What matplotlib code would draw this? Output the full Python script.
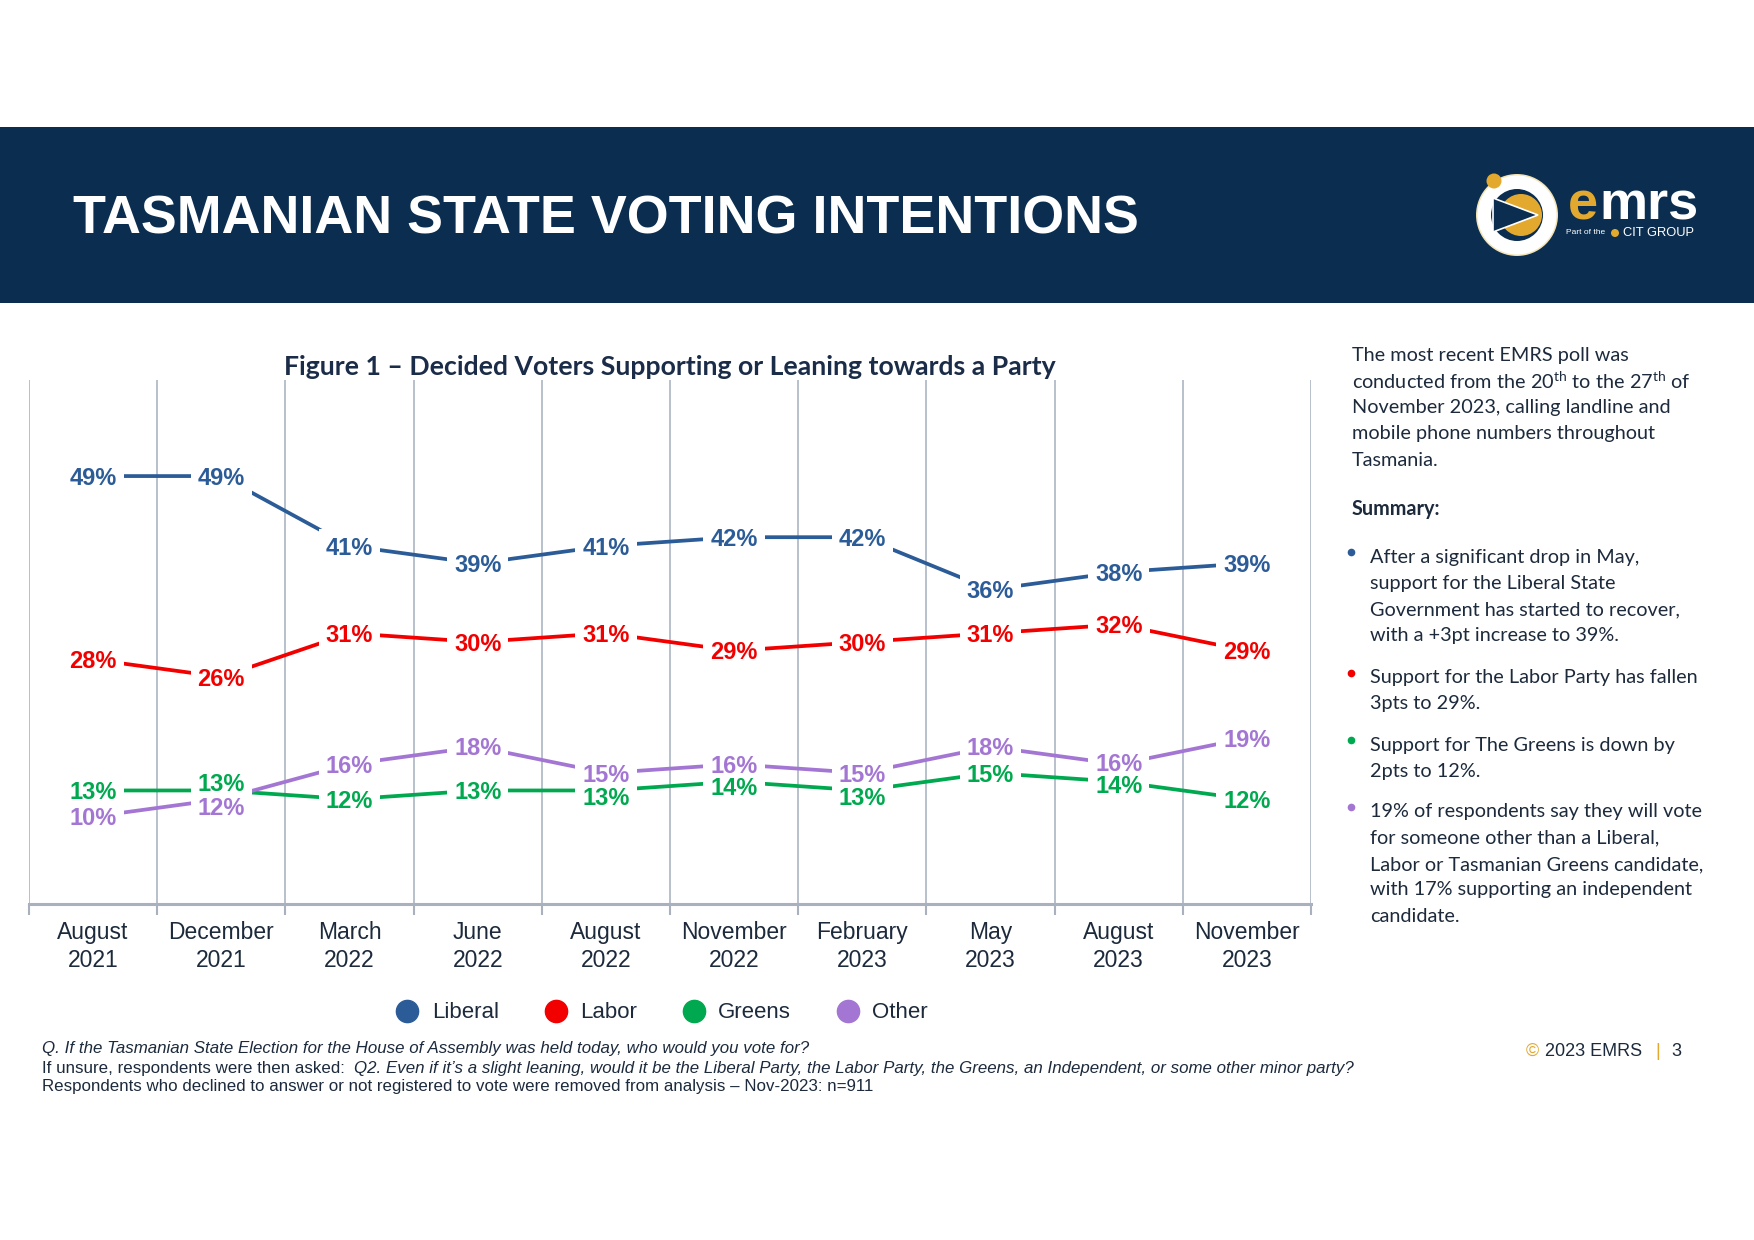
import matplotlib
matplotlib.use("Agg")
import matplotlib.pyplot as plt
from matplotlib.lines import Line2D
from matplotlib.patches import Rectangle, Circle, Polygon

plt.rcParams['font.family'] = ['Liberation Sans', 'DejaVu Sans']
plt.rcParams['mathtext.fontset'] = 'custom'
plt.rcParams['mathtext.rm'] = 'Lato'

W, H = 1754, 1240

# ---------------- data ----------------
periods = ["August\n2021", "December\n2021", "March\n2022", "June\n2022", "August\n2022",
           "November\n2022", "February\n2023", "May\n2023", "August\n2023", "November\n2023"]
liberal = [49, 49, 41, 39, 41, 42, 42, 36, 38, 39]
labor = [28, 26, 31, 30, 31, 29, 30, 31, 32, 29]
greens = [13, 13, 12, 13, 13, 14, 13, 15, 14, 12]
other = [10, 12, 16, 18, 15, 16, 15, 18, 16, 19]
series_names = ["Liberal", "Labor", "Greens", "Other"]

# ---------------- styles ----------------
colors = {"Liberal": "#2C5C97", "Labor": "#F20000", "Greens": "#00A94F", "Other": "#A476D3"}
label_nudge_pt = {"Greens": {1: 6, 4: -4.5, 5: -3.5, 6: -4.5, 8: -2},
                  "Other": {1: -5, 8: 1.5}}
NAVY = "#0B2E50"
TXT = "#1C2A3C"
GOLD = "#E3A92E"

fig = plt.figure(figsize=(W / 100, H / 100), dpi=100)

# overlay axes in pixel coordinates
ov = fig.add_axes([0, 0, 1, 1])
ov.set_xlim(0, W)
ov.set_ylim(H, 0)
ov.axis("off")

# header band
ov.add_patch(Rectangle((0, 127), W, 176, facecolor=NAVY, edgecolor="none"))
ov.text(73, 233, "TASMANIAN STATE VOTING INTENTIONS", color="white", fontsize=38.8,
        fontweight="bold", ha="left", va="baseline")

# logo
cx, cy = 1517, 215
ov.add_patch(Circle((cx, cy), 41, facecolor="#F3E3B5", edgecolor="none"))
ov.add_patch(Circle((cx, cy), 39.5, facecolor="white", edgecolor="none"))
ov.add_patch(Circle((cx, cy), 26, facecolor=NAVY, edgecolor="none"))
ov.add_patch(Circle((cx + 4, cy), 21, facecolor=GOLD, edgecolor="none"))
ov.add_patch(Polygon([(cx - 24, cy - 17), (cx - 24, cy + 17), (cx + 21, cy)], closed=True,
                     facecolor=NAVY, edgecolor="white", linewidth=1.2))
ov.add_patch(Circle((1494, 181), 7.5, facecolor=GOLD, edgecolor="none"))

renderer = fig.canvas.get_renderer()
te = ov.text(1568, 219, "e", color=GOLD, fontsize=39, fontweight="bold", ha="left", va="baseline")
ew = te.get_window_extent(renderer).width
ov.text(1568 + ew + 1, 219, "mrs", color="white", fontsize=39, fontweight="bold", ha="left", va="baseline")
ov.text(1566, 233, "Part of the", color="white", fontsize=6, ha="left", va="center")
ov.add_patch(Circle((1615, 233), 4, facecolor=GOLD, edgecolor="none"))
ov.text(1623, 233, "CIT GROUP", color="white", fontsize=9.3, ha="left", va="center")

# chart title
ov.text(670, 367, "Figure 1 \u2013 Decided Voters Supporting or Leaning towards a Party",
        color="#1B2C48", fontsize=19.2, fontweight="bold", family=["Lato", "DejaVu Sans"],
        ha="center", va="center")

# ---------------- chart ----------------
ax = fig.add_axes([29 / W, 1 - 904 / H, (1311 - 29) / W, (904 - 380) / H])
ax.patch.set_alpha(0)
xs = [i + 0.5 for i in range(len(periods))]
data = {"Liberal": liberal, "Labor": labor, "Greens": greens, "Other": other}

for name in series_names:
    ax.plot(xs, data[name], color=colors[name], linewidth=2.7, zorder=2, solid_capstyle="butt")

# two passes: white boxes first (hide lines), then coloured text on top
for pass_no in (0, 1):
    for name in series_names:
        for i, v in enumerate(data[name]):
            dy = label_nudge_pt.get(name, {}).get(i, 0) - 1.5
            kw = dict(xy=(xs[i], v), xytext=(0, dy), textcoords="offset points",
                      ha="center", va="center", fontsize=17, fontweight="bold")
            if pass_no == 0:
                ax.annotate(f"{v}%", color="white", zorder=3,
                            bbox=dict(boxstyle="square,pad=0.3", facecolor="white", edgecolor="none"), **kw)
            else:
                ax.annotate(f"{v}%", color=colors[name], zorder=4, **kw)

ax.set_xlim(0, 10)
ax.set_ylim(0, 60)
ax.set_xticks(range(11))
ax.set_xticklabels([])
ax.set_xticks(xs, minor=True)
ax.set_xticklabels(periods, minor=True, fontsize=16.5, color=TXT, linespacing=1.28)
ax.tick_params(axis="x", which="major", length=8, width=1.5, color="#A8B1BD", direction="out")
ax.tick_params(axis="x", which="minor", length=0, pad=12)
ax.set_yticks([])
ax.grid(axis="x", which="major", color="#B8C0CB", linewidth=1.4)
for s in ["left", "right", "top"]:
    ax.spines[s].set_visible(False)
ax.spines["bottom"].set_color("#A8B1BD")
ax.spines["bottom"].set_linewidth(2.2)

# legend
handles = [Line2D([], [], marker="o", linestyle="none", markersize=16,
                  markerfacecolor=colors[n], markeredgecolor=colors[n]) for n in series_names]
fig.legend(handles, series_names, loc="center", bbox_to_anchor=(662 / W, 1 - 1013 / H),
           ncol=4, frameon=False, fontsize=16, handlelength=1.0, handletextpad=0.6,
           columnspacing=2.05, labelcolor=TXT)

# ---------------- right-hand commentary ----------------
body = dict(family=["Lato", "DejaVu Sans"], fontsize=14.3, color=TXT, ha="left", va="center")
intro = ["The most recent EMRS poll was",
         r"conducted from the 20$^{\mathrm{th}}$ to the 27$^{\mathrm{th}}$ of",
         "November 2023, calling landline and",
         "mobile phone numbers throughout",
         "Tasmania."]
intro_y = [356, 381, 407, 434, 460]
for t, y in zip(intro, intro_y):
    ov.text(1352, y, t, **body)
ov.text(1352, 509, "Summary:", fontweight="bold", **body)

bullets = [
    ("Liberal", ["After a significant drop in May,", "support for the Liberal State",
                 "Government has started to recover,", "with a +3pt increase to 39%."], [557, 584, 610, 636]),
    ("Labor", ["Support for the Labor Party has fallen", "3pts to 29%."], [678, 704]),
    ("Greens", ["Support for The Greens is down by", "2pts to 12%."], [745, 771]),
    ("Other", ["19% of respondents say they will vote", "for someone other than a Liberal,",
               "Labor or Tasmanian Greens candidate,", "with 17% supporting an independent",
               "candidate."], [812, 838, 865, 890, 917]),
]
for name, lines, ys in bullets:
    ov.plot([1351], [ys[0] - 5], marker="o", markersize=4.5, color=colors[name], linestyle="none")
    for t, y in zip(lines, ys):
        ov.text(1370, y, t, **body)

# ---------------- footnotes ----------------
fn = dict(fontsize=12.2, color=TXT, ha="left", va="center")
ov.text(42, 1049, "Q. If the Tasmanian State Election for the House of Assembly was held today, who would you vote for?",
        style="italic", **fn)
t1 = ov.text(42, 1068, "If unsure, respondents were then asked:", **fn)
w1 = t1.get_window_extent(renderer).width
ov.text(42 + w1 + 9, 1068,
        "Q2. Even if it\u2019s a slight leaning, would it be the Liberal Party, the Labor Party, the Greens, an Independent, or some other minor party?",
        style="italic", **fn)
ov.text(42, 1087, "Respondents who declined to answer or not registered to vote were removed from analysis \u2013 Nov-2023: n=911", **fn)

ft = dict(fontsize=13, ha="left", va="center")
ov.text(1526, 1051, "\u00a9", color=GOLD, **ft)
ov.text(1545, 1051, "2023 EMRS", color=TXT, **ft)
ov.text(1655, 1051, "|", color=GOLD, **ft)
ov.text(1671, 1051, "3", color=TXT, **ft)

fig.savefig("out.png", dpi=100, facecolor="white")
